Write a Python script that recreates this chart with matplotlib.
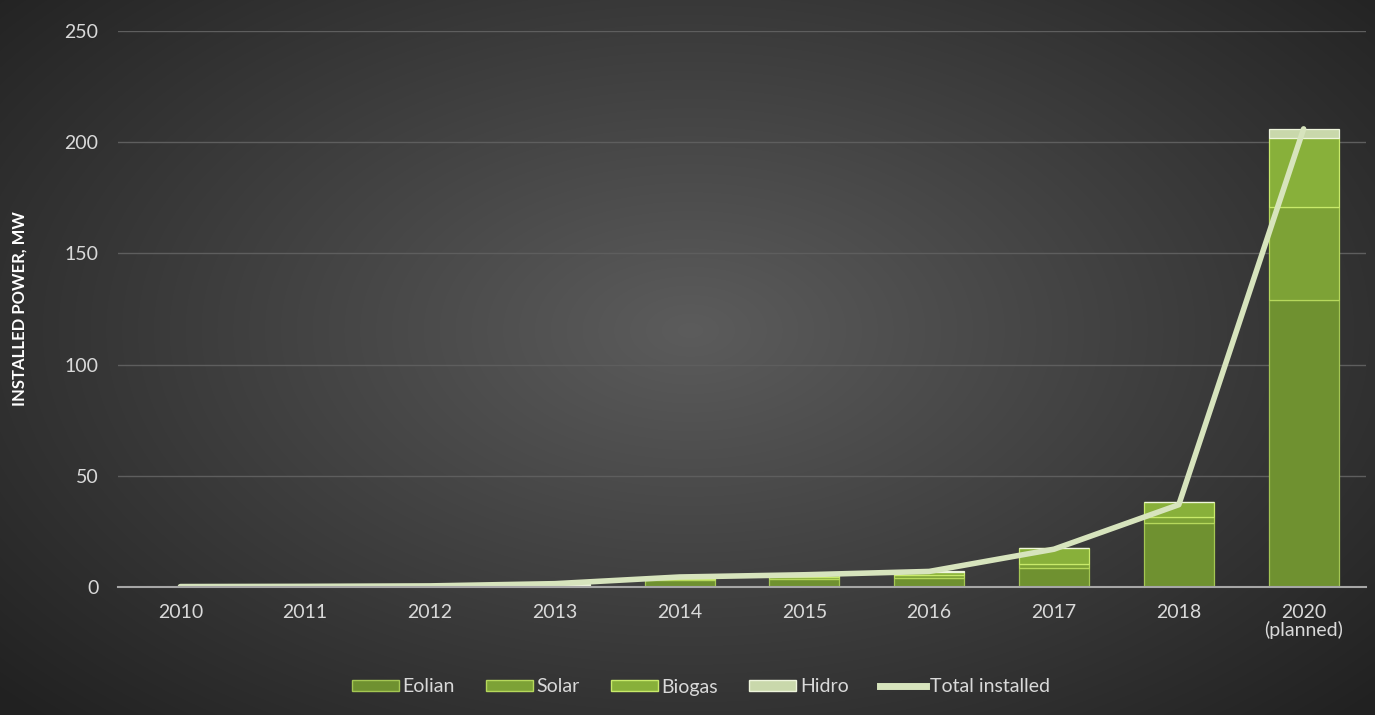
import numpy as np
import matplotlib

matplotlib.use("Agg")
import matplotlib.pyplot as plt
from matplotlib.patches import Patch
from matplotlib.lines import Line2D

years = ["2010", "2011", "2012", "2013", "2014", "2015", "2016", "2017", "2018", "2020\n(planned)"]
eolian = [0.0, 0.0, 0.0, 0.5, 3.0, 3.5, 4.0, 8.5, 29.0, 129.0]
solar = [0.0, 0.0, 0.0, 0.3, 0.8, 1.0, 1.5, 2.0, 2.5, 42.0]
biogas = [0.0, 0.0, 0.0, 0.3, 0.5, 0.7, 1.2, 7.0, 6.5, 31.0]
hidro = [0.2, 0.3, 0.5, 0.4, 0.2, 0.3, 0.3, 0.0, 0.0, 4.0]
total = [0.2, 0.3, 0.5, 1.5, 4.5, 5.5, 7.0, 17.0, 37.0, 206.0]

series = [
    ("Eolian", eolian, "#6f9130", "#a4c653"),
    ("Solar", solar, "#7da236", "#b6d85c"),
    ("Biogas", biogas, "#88b03a", "#c8ea6a"),
    ("Hidro", hidro, "#c9d8ab", "#eef5dc"),
]
line_color = "#d7e4bd"
text_color = "#d9d9d9"

fig = plt.figure(figsize=(13.75, 7.15), dpi=100)

# radial dark background, lighter in the middle
bg = fig.add_axes([0, 0, 1, 1], zorder=-10)
yy, xx = np.mgrid[0:715, 0:1375]
r = np.sqrt(((xx - 690) / 850.0) ** 2 + ((yy - 330) / 500.0) ** 2)
shade = np.clip(0.36 - 0.21 * r, 0.13, 0.36)
bg.imshow(np.dstack([shade] * 3), aspect="auto", extent=[0, 1, 0, 1])
bg.set_axis_off()

ax = fig.add_axes([118 / 1375, 1 - 587 / 715, 1248 / 1375, 556 / 715])
ax.set_facecolor("none")

x = np.arange(len(years))
bottom = np.zeros(len(years))
width = 0.56
for name, vals, color, edge in series:
    ax.bar(x, vals, width, bottom=bottom, color=color, edgecolor=edge,
           linewidth=0.9, label=name, zorder=3)
    bottom += np.array(vals)

ax.plot(x, total, color=line_color, linewidth=4, solid_capstyle="round",
        zorder=4, label="Total installed")

ax.set_xlim(-0.5, len(years) - 0.5)
ax.set_ylim(0, 250)
ax.set_yticks(range(0, 251, 50))
ax.set_xticks(x)
ax.set_xticklabels(years)
ax.tick_params(colors=text_color, labelsize=14, length=0)
ax.tick_params(axis="y", pad=14)
ax.tick_params(axis="x", pad=12)
for lab in ax.get_xticklabels() + ax.get_yticklabels():
    lab.set_family("Lato")
    lab.set_linespacing(1.0)
ax.yaxis.grid(True, color="#5e5e5e", linewidth=1)
ax.set_axisbelow(True)
for side in ["top", "right", "left"]:
    ax.spines[side].set_visible(False)
ax.spines["bottom"].set_color("#a6a6a6")
ax.spines["bottom"].set_linewidth(1.5)
ax.spines["bottom"].set_zorder(5)

fig.text(20 / 1375, 1 - 309 / 715, "INSTALLED POWER, MW", rotation=90,
         color="white", fontsize=12, fontweight="bold", family="Lato",
         ha="center", va="center")

handles = [Patch(facecolor=c, edgecolor=e, label=n) for n, _, c, e in series]
handles.append(Line2D([0], [0], color=line_color, linewidth=5, label="Total installed"))
leg = fig.legend(handles=handles, loc="center", bbox_to_anchor=(0.51, 1 - 687 / 715),
                 ncol=5, frameon=False, handlelength=2.4,
                 handleheight=0.5, handletextpad=0.2, columnspacing=1.6,
                 prop={"family": "Lato", "size": 14})
for t in leg.get_texts():
    t.set_color(text_color)

fig.savefig("out.png", dpi=100)
